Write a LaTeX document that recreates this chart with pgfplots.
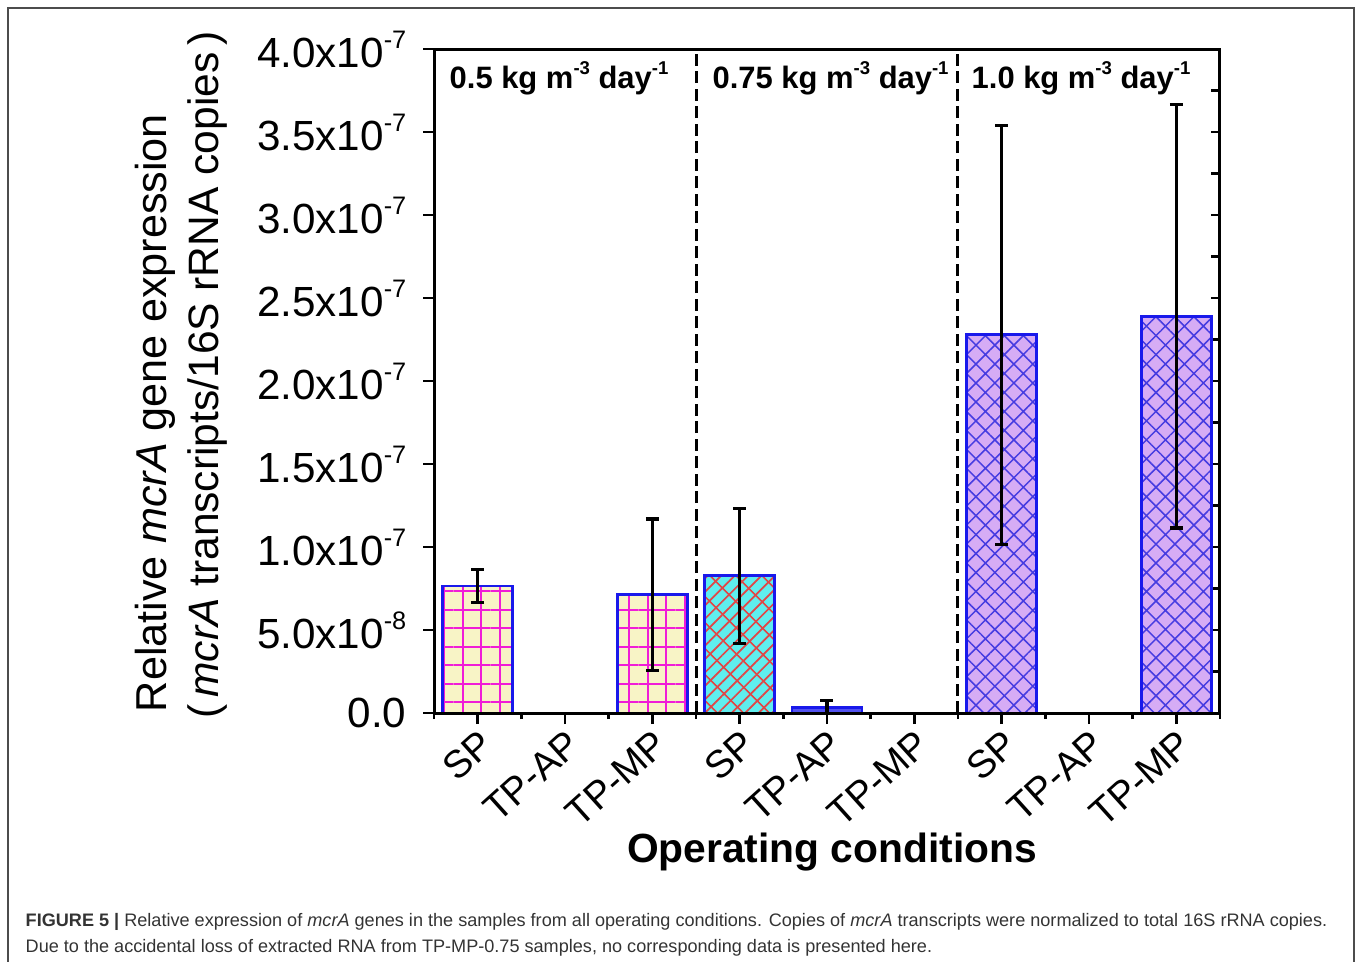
\documentclass[border=0pt]{standalone}
\usepackage{fontspec}
\setmainfont{Liberation Sans}
\usepackage{graphicx}
\usepackage{pgfplots}
\pgfplotsset{compat=1.18}
\usetikzlibrary{patterns.meta}

\definecolor{barblue}{RGB}{25,25,235}
\definecolor{creamfill}{RGB}{248,244,198}
\definecolor{gridmag}{RGB}{240,30,215}
\definecolor{cyanfill}{RGB}{95,238,238}
\definecolor{brickred}{RGB}{225,70,70}
\definecolor{lavfill}{RGB}{214,172,245}
\definecolor{hatchblue}{RGB}{70,60,225}
\newcommand\sups[1]{\raisebox{0.45em}{\scalebox{0.6}{#1}}}

\begin{document}
\begin{tikzpicture}
\path[use as bounding box] (0,0) rectangle (135.8mm,-96.1mm);
\draw[gray!60!black, line width=0.2mm] (0.8mm,-96.3mm) -- (0.8mm,-0.8mm) -- (135.4mm,-0.8mm) -- (135.4mm,-96.3mm);

% right-hand inner ticks
\begin{axis}[
  at={(43.4mm,-71.3mm)}, anchor=south west,
  scale only axis, width=78.6mm, height=66.4mm,
  xmin=0.5, xmax=9.5, ymin=0, ymax=4,
  axis line style={draw=none},
  xtick=\empty,
  ytick={0,0.25,...,4}, yticklabels={},
  ytick pos=right, tick align=inside,
  major tick length=0.9mm,
  tick style={black, line width=0.25mm},
]
\end{axis}

\begin{axis}[
  at={(43.4mm,-71.3mm)}, anchor=south west,
  scale only axis, width=78.6mm, height=66.4mm,
  xmin=0.5, xmax=9.5, ymin=0, ymax=4,
  axis on top,
  axis line style={line width=0.3mm, black},
  xtick={1,...,9},
  xticklabels={SP,TP-AP,TP-MP,SP,TP-AP,TP-MP,SP,TP-AP,TP-MP},
  minor xtick={0.5,1.5,...,9.5},
  xtick pos=bottom, ytick pos=left,
  tick align=outside,
  major tick length=1.1mm, minor tick length=0.6mm,
  tick style={black, line width=0.28mm},
  ytick={0,0.5,...,4},
  yticklabels={0.0,
    5.0x10\sups{-8},
    1.0x10\sups{-7},
    1.5x10\sups{-7},
    2.0x10\sups{-7},
    2.5x10\sups{-7},
    3.0x10\sups{-7},
    3.5x10\sups{-7},
    4.0x10\sups{-7}},
  yticklabel style={font=\fontsize{12}{14}\selectfont, inner sep=0pt, xshift=-1.6mm},
  xticklabel style={font=\fontsize{11}{13}\selectfont, yshift=-0.3mm, rotate=42, anchor=north east, inner sep=0pt},
]
% 0.5 kg m-3 day-1
\addplot[ybar, bar width=0.8, bar shift=0pt, draw=barblue, line width=0.28mm,
  fill=creamfill,
  postaction={pattern={Hatch[angle=0,distance=1.85mm,line width=0.2mm]}, pattern color=gridmag}]
  coordinates {(1,0.765) (3,0.712)};
% 0.75 kg m-3 day-1, SP
\addplot[ybar, bar width=0.8, bar shift=0pt, draw=barblue, line width=0.28mm,
  fill=cyanfill,
  postaction={pattern={Lines[angle=45,distance=0.95mm,line width=0.17mm]}, pattern color=brickred},
  postaction={pattern={Lines[angle=-45,distance=1.9mm,line width=0.17mm]}, pattern color=brickred}]
  coordinates {(4,0.827)};
% 0.75 kg m-3 day-1, TP-AP
\addplot[ybar, bar width=0.8, bar shift=0pt, draw=barblue, line width=0.28mm,
  fill=barblue!75]
  coordinates {(5,0.035)};
% 1.0 kg m-3 day-1
\addplot[ybar, bar width=0.8, bar shift=0pt, draw=barblue, line width=0.28mm,
  fill=lavfill,
  postaction={pattern={Hatch[angle=45,distance=1.34mm,line width=0.15mm]}, pattern color=hatchblue}]
  coordinates {(7,2.278) (9,2.390)};
% error bars
\addplot[draw=none, mark=none, forget plot,
  error bars/.cd, y dir=both, y explicit,
  error bar style={draw=black, solid, line width=0.32mm},
  error mark options={draw=black, solid, rotate=90, mark size=0.65mm, line width=0.32mm}]
  coordinates {(1,0.765) +- (0,0.100)
               (3,0.712) +- (0,0.457)
               (4,0.827) +- (0,0.407)
               (5,0.035) +- (0,0.040)
               (7,2.278) +- (0,1.262)
               (9,2.390) +- (0,1.275)};
% section separators
\addplot[black, line width=0.3mm, dash pattern=on 1.2mm off 0.55mm] coordinates {(3.5,0) (3.5,4)};
\addplot[black, line width=0.3mm, dash pattern=on 1.2mm off 0.55mm] coordinates {(6.5,0) (6.5,4)};

\node[anchor=west, inner sep=0pt, font=\bfseries\fontsize{8.8}{10}\selectfont] at (axis cs:0.672,3.825) {0.5 kg m\sups{-3} day\sups{-1}};
\node[anchor=west, inner sep=0pt, font=\bfseries\fontsize{8.8}{10}\selectfont] at (axis cs:3.683,3.825) {0.75 kg m\sups{-3} day\sups{-1}};
\node[anchor=west, inner sep=0pt, font=\bfseries\fontsize{8.8}{10}\selectfont] at (axis cs:6.649,3.825) {1.0 kg m\sups{-3} day\sups{-1}};
\end{axis}

\node[rotate=90, inner sep=0pt, font=\fontsize{12.3}{14}\selectfont] at (15.5mm,-41.3mm) {Relative \textit{mcrA} gene expression};
\node[rotate=90, inner sep=0pt, font=\fontsize{12.1}{14}\selectfont] at (20.7mm,-37.5mm) {(\,\textit{mcrA} transcripts/16S rRNA copies\,)};
\node[inner sep=0pt, font=\bfseries\fontsize{11.6}{13}\selectfont] at (83.2mm,-85.2mm) {Operating conditions};

\node[anchor=base west, inner sep=0pt, text=black!80, font=\fontsize{5.15}{6}\selectfont] at (2.5mm,-92.6mm) {\textbf{FIGURE 5 |} Relative expression of \textit{mcrA} genes in the samples from all operating conditions. Copies of \textit{mcrA} transcripts were normalized to total 16S rRNA copies.};
\node[anchor=base west, inner sep=0pt, text=black!80, font=\fontsize{5.15}{6}\selectfont] at (2.5mm,-95.2mm) {Due to the accidental loss of extracted RNA from TP-MP-0.75 samples, no corresponding data is presented here.};
\end{tikzpicture}
\end{document}
